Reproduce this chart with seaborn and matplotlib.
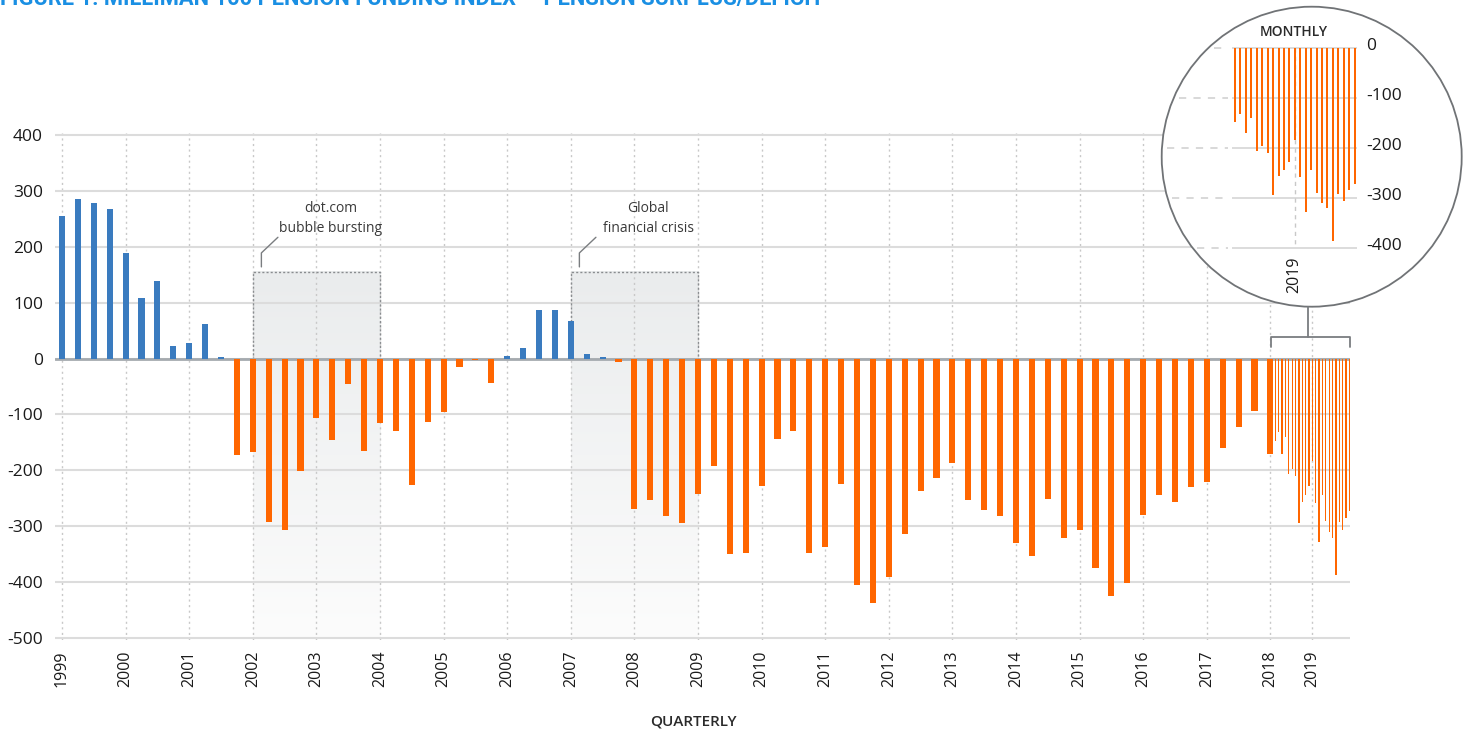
import numpy as np
import pandas as pd
import matplotlib
matplotlib.use("Agg")
import matplotlib.pyplot as plt
import seaborn as sns
from matplotlib import transforms
from matplotlib.patches import Circle
from matplotlib.colors import LinearSegmentedColormap

# ---------------- data ----------------
quarterly_start_year = 1999
quarterly_values = [255, 285, 279, 268, 189, 109, 139, 22, 28, 62, 2, -173,
                    -167, -293, -306, -201, -107, -145, -45, -165, -115, -129, -226, -113,
                    -95, -15, -2, -44, 5, 18, 87, 87, 68, 9, 2, -7,
                    -270, -253, -282, -294, -242, -192, -349, -348, -228, -144, -130, -348,
                    -337, -225, -405, -437, -390, -314, -237, -214, -187, -253, -271, -282,
                    -330, -353, -251, -321, -307, -374, -424, -401, -280, -244, -257, -230,
                    -221, -160, -123, -94, -171]
monthly_values = [-148, -132, -171, -140, -207, -197, -210, -295, -257, -244, -228, -184,
                  -258, -329, -244, -290, -310, -321, -387, -293, -307, -285, -273]
year_labels = [str(y) for y in range(1999, 2020)]
y_ticks = [400, 300, 200, 100, 0, -100, -200, -300, -400, -500]
inset_ticks = [0, -100, -200, -300, -400]
event_labels = ["dot.com\nbubble bursting", "Global\nfinancial crisis"]
event_start = [2002, 2007]
event_end = [2004, 2009]
event_top = 155
title = "FIGURE 1: MILLIMAN 100 PENSION FUNDING INDEX \u2014 PENSION SURPLUS/DEFICIT"
xlabel = "QUARTERLY"
inset_title = "MONTHLY"

BLUE = "#3a7bbf"
ORANGE = "#ff6600"
GRID = "#dcdcdc"
TXT = "#1a1a1a"

# ---------------- layout helpers ----------------
W, H = 1468, 730
MONTH_STEP = 0.0529      # compressed monthly spacing (in year units of the quarterly scale)
MONTH_OFFSET = 0.025

q_x = [quarterly_start_year + i * 0.25 for i in range(len(quarterly_values))]
m_idx = list(range(1, len(monthly_values) + 1))
m_x = [2018 + MONTH_OFFSET + m * MONTH_STEP for m in m_idx]
tick_pos = list(range(1999, 2019)) + [2018 + MONTH_OFFSET + 12 * MONTH_STEP]

df_q = pd.DataFrame({"x": q_x, "v": quarterly_values,
                     "s": ["pos" if v >= 0 else "neg" for v in quarterly_values]})
df_m = pd.DataFrame({"x": m_x, "v": monthly_values})
df_in = pd.DataFrame({"m": m_idx, "v": monthly_values})

sns.set_theme(style="white")
plt.rcParams["font.family"] = ["Open Sans", "DejaVu Sans"]

fig = plt.figure(figsize=(W / 100, H / 100), dpi=100)

def px_axes(left, right, top, bottom, **kw):
    return fig.add_axes([left / W, 1 - bottom / H, (right - left) / W, (bottom - top) / H], **kw)

# main axes: 1999 at px 62, 63.6 px/year; 400 at px 135, -500 at px 638
PXY = 63.6
x_left = 1999 - (62 - 55) / PXY
x_right = 1999 + (1350 - 62) / PXY
ppu = (638 - 135) / 900.0
ext = 4
ax = px_axes(55, 1350, 135 - ext * ppu, 638 + ext * ppu)
ax.set_facecolor("none")

# shaded event boxes
cmap = LinearSegmentedColormap.from_list("fade", ["#fcfcfc", "#eaeced"])
grad = np.linspace(0, 1, 256).reshape(-1, 1)
for xs, xe in zip(event_start, event_end):
    ax.imshow(grad, extent=[xs, xe, -500, event_top], origin="lower", aspect="auto",
              cmap=cmap, zorder=0.1, interpolation="bilinear")
    ax.plot([xs, xs, xe, xe], [0, event_top, event_top, 0], ls=(0, (1.5, 1.5)),
            color="#8a8d90", lw=1.0, zorder=0.6)

sns.barplot(data=df_q, x="x", y="v", hue="s", palette={"pos": BLUE, "neg": ORANGE},
            native_scale=True, width=0.38, dodge=False, saturation=1, errorbar=None,
            legend=False, linewidth=0, ax=ax, zorder=3)
sns.barplot(data=df_m, x="x", y="v", color=ORANGE, native_scale=True, width=0.4,
            saturation=1, errorbar=None, linewidth=0, ax=ax, zorder=3)

ax.set_xlim(x_left, x_right)
ax.set_ylim(-500 - ext, 400 + ext)
ax.set_yticks(y_ticks)
ax.set_yticklabels([str(t) for t in y_ticks])
ax.set_xticks(tick_pos)
ax.set_xticklabels(year_labels, rotation=90, va="top", ha="center")
ax.tick_params(axis="y", length=0, pad=8.6, labelsize=12.5, labelcolor=TXT)
ax.tick_params(axis="x", length=0, pad=7.2, labelsize=11.5, labelcolor=TXT)
ax.set_xlabel("")
ax.set_ylabel("")
ax.set_axisbelow(True)
ax.grid(axis="y", color=GRID, lw=1.5, ls="-")
ax.grid(axis="x", color="#c8c8c8", lw=1.0, ls=(0, (1.5, 2.5)))
for sp in ax.spines.values():
    sp.set_visible(False)
ax.axhline(0, color="#a5aaaf", lw=2, zorder=2)

# annotation texts & leaders
for xs, lab in zip(event_start, event_labels):
    lx = xs + 0.135
    ax.plot([lx, lx, lx + 0.26], [164, 189, 217], color="#7a7d80", lw=1.0, zorder=4)
    ax.text(xs + 1.22, 250, lab, ha="center", va="center", fontsize=10,
            color="#3a3a3a", linespacing=1.45, zorder=4)

# x axis title
fig.text(693 / W, 1 - 722 / H, xlabel, ha="center", va="center", fontsize=11,
         color="#2a2a2a", fontweight="semibold")

# title (clipped at top, as in the reference)
t = fig.text(0, 1 - 5 / H, title, ha="left", va="baseline", fontsize=13,
             fontweight="bold", color="#1a8fe3",
             family=["Liberation Sans Narrow", "Roboto", "DejaVu Sans"])
fig.canvas.draw()
bb = t.get_window_extent()
t.set_fontsize(13 * 820 / bb.width)

# overlay for circle, bracket, inset dashes
ov = fig.add_axes([0, 0, 1, 1], zorder=5)
ov.set_xlim(0, W)
ov.set_ylim(H, 0)
ov.axis("off")
ov.patch.set_alpha(0)
cx, cy, r = 1311.7, 156.7, 150
ov.add_patch(Circle((cx, cy), r, facecolor="white", edgecolor="#707376", lw=1.3, zorder=1))
# bracket
ov.plot([1270.5, 1270.5, 1349.5, 1349.5], [347, 337, 337, 347], color="#7a7d80", lw=1.3, zorder=1)
ov.plot([1308, 1308], [cy + r, 337], color="#7a7d80", lw=1.3, zorder=1)

# inset axes: 0 at px 47.7, -400 at px 247.7 ; bars m=1 at px 1235, 5.44 px step
ippu = 200 / 400.0
iext = 4
STEP = 5.44
in_left, in_right = 1232, 1357
ax_in = px_axes(in_left, in_right, 47.7 - iext * ippu, 247.7 + iext * ippu)
ax_in.set_zorder(6)
ax_in.patch.set_alpha(0)
sns.barplot(data=df_in, x="m", y="v", color=ORANGE, native_scale=True, width=0.37,
            saturation=1, errorbar=None, linewidth=0, ax=ax_in, zorder=3)
ax_in.set_xlim(1 + (in_left - 1235) / STEP, 1 + (in_right - 1235) / STEP)
ax_in.set_ylim(-400 - iext, iext)
ax_in.set_yticks(inset_ticks)
ax_in.set_yticklabels([str(t) for t in inset_ticks])
ax_in.yaxis.tick_right()
ax_in.set_xticks([])
ax_in.tick_params(axis="y", length=0, pad=6.5, labelsize=12.5, labelcolor=TXT)
off = transforms.ScaledTranslation(0, 4 / 100, fig.dpi_scale_trans)
for lab in ax_in.get_yticklabels():
    lab.set_transform(lab.get_transform() + off)
ax_in.set_xlabel("")
ax_in.set_ylabel("")
ax_in.set_axisbelow(True)
ax_in.grid(axis="y", color=GRID, lw=1.4, ls="-")
for sp in ax_in.spines.values():
    sp.set_visible(False)
ax_in.plot([12, 12], [0, -400], color="#c8c8c8", lw=1.0, ls=(0, (3, 3)), zorder=1)

for tv in inset_ticks:
    ypx = 47.7 - tv * ippu
    xl = cx - np.sqrt(r ** 2 - (ypx - cy) ** 2) + 5
    ov.plot([xl, 1228], [ypx, ypx], color="#d6d6d6", lw=1.3, ls=(0, (4, 4)), zorder=2)

ov.text(1294, 31.7, inset_title, ha="center", va="center", fontsize=10,
        color="#2a2a2a", fontweight="semibold", zorder=3)
ov.text(1294, 275, "2019", ha="center", va="center", rotation=90, fontsize=11.5,
        color=TXT, zorder=3)

fig.savefig("out.png", dpi=100)
